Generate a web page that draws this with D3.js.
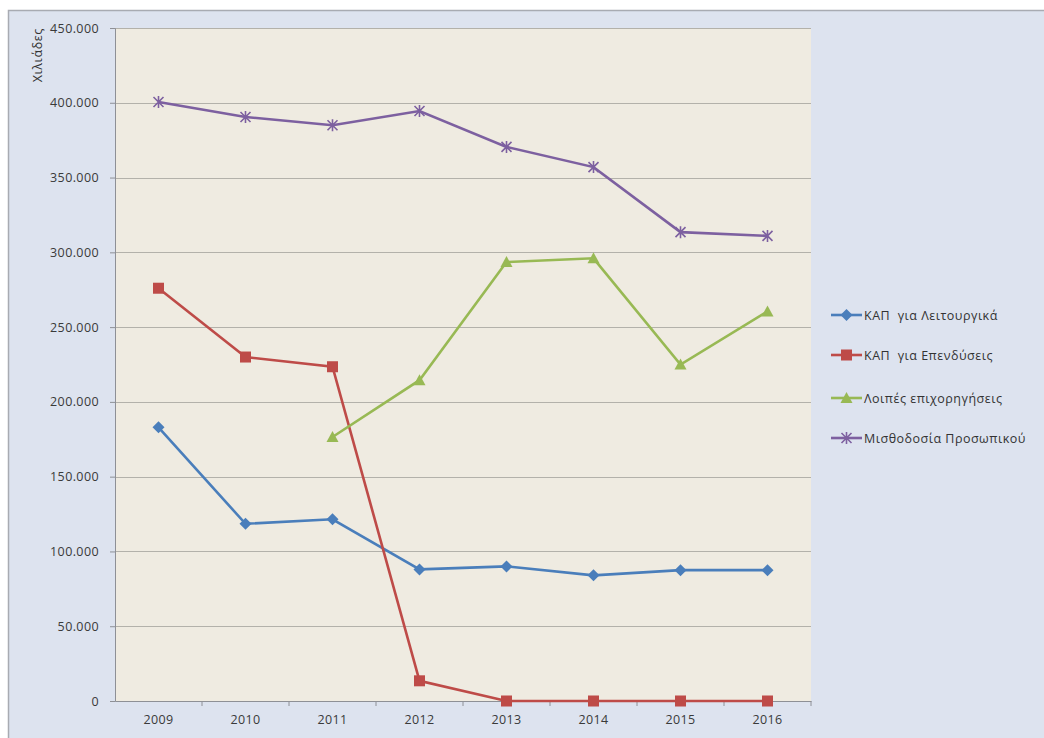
<!DOCTYPE html>
<html><head><meta charset="utf-8">
<script src="https://cdn.jsdelivr.net/npm/d3@7"></script>
<style>body{margin:0;background:#fff;} text{font-family:"Open Sans","Liberation Sans",sans-serif;}</style>
</head><body>
<svg id="c" width="1044" height="738"></svg>
<script>
const years = ["2009","2010","2011","2012","2013","2014","2015","2016"];
const kapLeit = [183000,118500,121500,88000,90000,84000,87500,87500];
const kapEpend = [276000,230000,223500,13500,0,0,0,0];
const loipes = [null,null,176500,214500,293500,296000,225000,260500];
const misth = [400500,390500,385000,394500,370500,357000,313500,311000];
const seriesNames = ["ΚΑΠ  για Λειτουργικά","ΚΑΠ  για Επενδύσεις","Λοιπές επιχορηγήσεις","Μισθοδοσία Προσωπικού"];
const yTicks = [0,50000,100000,150000,200000,250000,300000,350000,400000,450000];

const colors = ["#4a7ebb","#be4b48","#98b954","#7d60a0"];
const markers = ["diamond","square","triangle","star"];
const data = [kapLeit,kapEpend,loipes,misth];

const svg = d3.select("#c");
svg.append("rect").attr("x",8.5).attr("y",10.5).attr("width",1040).attr("height",740)
  .attr("fill","#dde3ef").attr("stroke","#a8abb2").attr("stroke-width",1.5);

const L=115, T=28, R=811, B=701;
svg.append("rect").attr("x",L).attr("y",T).attr("width",R-L).attr("height",B-T).attr("fill","#efebe1");

const x = d3.scaleBand().domain(years).range([L,R]);
const y = d3.scaleLinear().domain([0,450000]).range([B,T]);

const fmt = v => d3.format(",")(v).replace(/,/g,".");

// gridlines
svg.append("g").selectAll("line").data(yTicks.filter(d=>d>0)).join("line")
  .attr("x1",L).attr("x2",R).attr("y1",d=>Math.round(y(d))+0.5).attr("y2",d=>Math.round(y(d))+0.5)
  .attr("stroke","#b3b1aa").attr("stroke-width",1);

// y axis
const ya = svg.append("g").attr("transform",`translate(${L},0)`)
  .call(d3.axisLeft(y).tickValues(yTicks).tickFormat(fmt).tickSize(5).tickPadding(11));
ya.select(".domain").attr("stroke","#8e9096");
ya.selectAll(".tick line").attr("stroke","#8e9096");
ya.selectAll("text").attr("fill","#3a3a3a").style("font-size","12.5px").style("letter-spacing","0.4px");

// x axis
const xa = svg.append("g").attr("transform",`translate(0,${B})`)
  .call(d3.axisBottom(x).tickSize(0).tickPadding(14));
xa.select(".domain").attr("stroke","#8e9096");
xa.selectAll("text").attr("fill","#3a3a3a").style("font-size","12.5px").style("letter-spacing","0.4px");
svg.append("g").selectAll("line").data(years.slice(1).concat(["end"])).join("line")
  .attr("x1",(d,i)=>L+x.step()*(i+1)).attr("x2",(d,i)=>L+x.step()*(i+1))
  .attr("y1",B).attr("y2",B+5).attr("stroke","#8e9096");

// y title
svg.append("text").attr("transform","translate(42,28) rotate(-90)").attr("text-anchor","end")
  .style("font-size","12.5px").style("letter-spacing","0.6px").attr("fill","#333").text("Χιλιάδες");

function marker(g, type, cx, cy, col){
  if(type==="diamond"){
    g.append("path").attr("d",`M${cx},${cy-6}L${cx+6},${cy}L${cx},${cy+6}L${cx-6},${cy}Z`).attr("fill",col);
  } else if(type==="square"){
    g.append("rect").attr("x",cx-5.5).attr("y",cy-5.5).attr("width",11).attr("height",11).attr("fill",col);
  } else if(type==="triangle"){
    g.append("path").attr("d",`M${cx},${cy-6}L${cx+6},${cy+5}L${cx-6},${cy+5}Z`).attr("fill",col);
  } else {
    g.append("path").attr("d",`M${cx-5},${cy-5}L${cx+5},${cy+5}M${cx-5},${cy+5}L${cx+5},${cy-5}M${cx},${cy-6}L${cx},${cy+6}`)
      .attr("stroke",col).attr("stroke-width",1.6).attr("fill","none");
  }
}

const line = d3.line().defined(d=>d.v!==null).x(d=>x(d.k)+x.bandwidth()/2).y(d=>y(d.v));
data.forEach((s,i)=>{
  const pts = years.map((k,j)=>({k,v:s[j]}));
  const g = svg.append("g");
  g.append("path").datum(pts).attr("d",line).attr("fill","none").attr("stroke",colors[i]).attr("stroke-width",2.6);
  pts.filter(p=>p.v!==null).forEach(p=>marker(g,markers[i],x(p.k)+x.bandwidth()/2,y(p.v),colors[i]));
});

// legend
const legY = [315,355,398,438];
seriesNames.forEach((n,i)=>{
  const g = svg.append("g");
  g.append("line").attr("x1",831).attr("x2",862).attr("y1",legY[i]).attr("y2",legY[i]).attr("stroke",colors[i]).attr("stroke-width",2.6);
  marker(g,markers[i],846.5,legY[i],colors[i]);
  g.append("text").attr("x",864).attr("y",legY[i]+4.5).style("font-size","12.5px").style("letter-spacing","0.5px")
    .style("white-space","pre").attr("fill","#333").text(n);
});
</script>
</body></html>
